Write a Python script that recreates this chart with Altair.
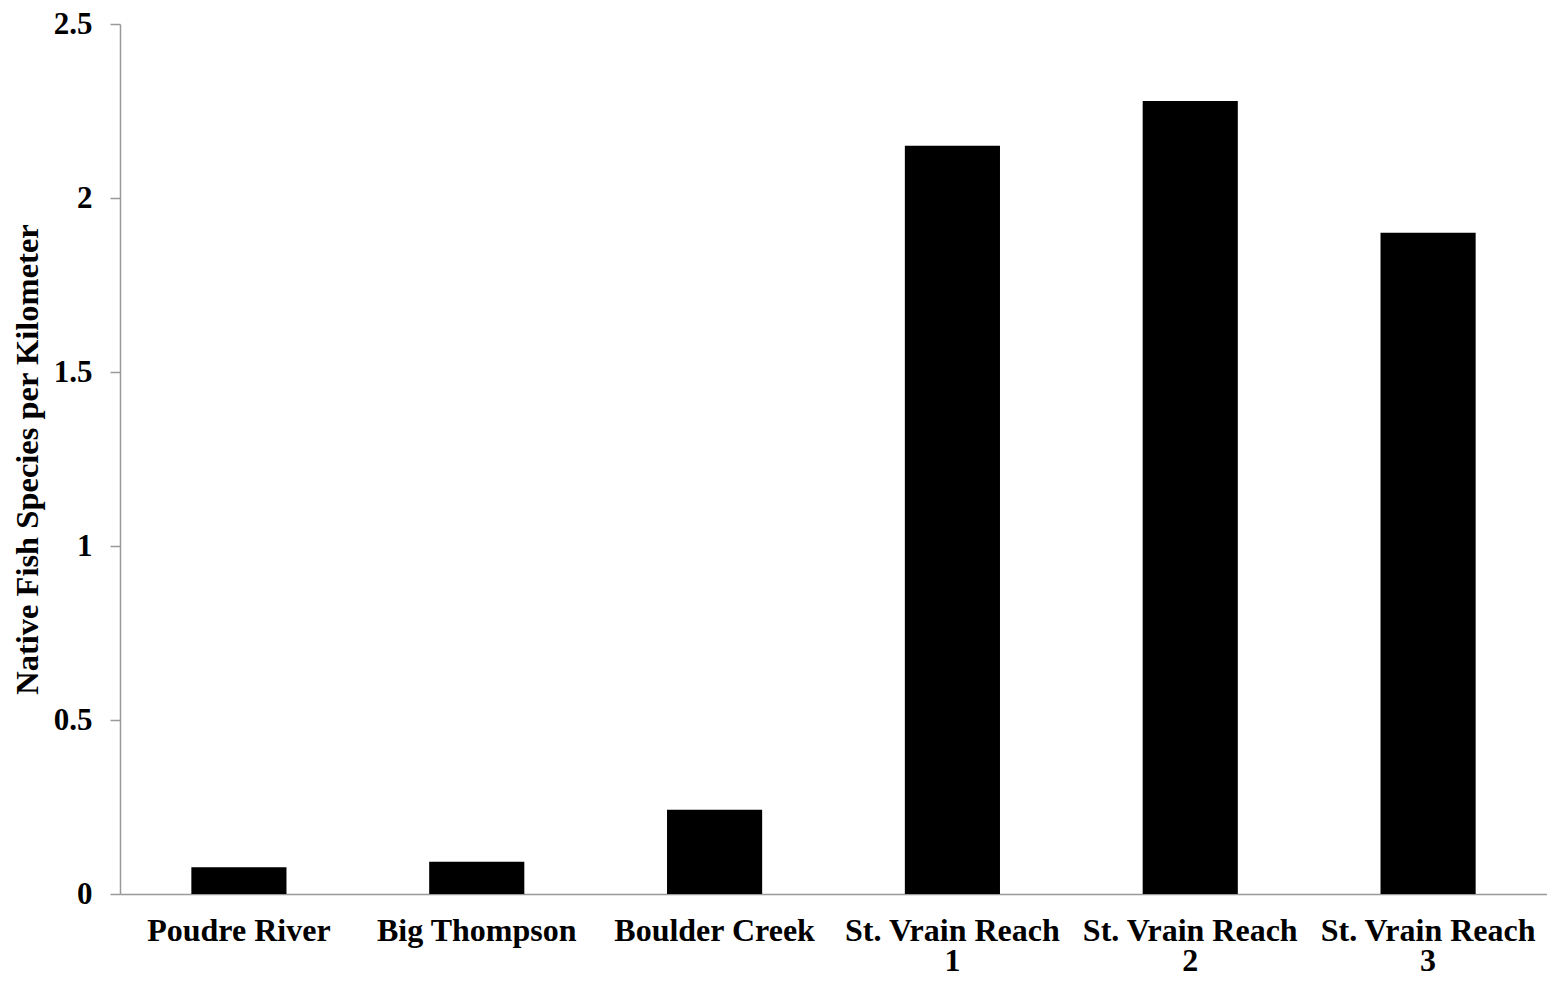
import altair as alt
import pandas as pd

sites = ["Poudre River", "Big Thompson", "Boulder Creek",
         "St. Vrain Reach 1", "St. Vrain Reach 2", "St. Vrain Reach 3"]
values = [0.077, 0.093, 0.242, 2.150, 2.279, 1.900]

df = pd.DataFrame({"site": sites, "value": values})

FONT = "Liberation Serif"

label_expr = ("indexof(datum.label, 'Reach') > 0 ? "
              "['St. Vrain Reach', substring(datum.label, 16)] : datum.label")

chart = alt.Chart(df).mark_bar(color="black").encode(
    x=alt.X("site:N", sort=sites,
            scale=alt.Scale(paddingInner=0.6, paddingOuter=0.3),
            axis=alt.Axis(title=None, labelAngle=0, ticks=False,
                          labelExpr=label_expr, labelPadding=21,
                          labelLineHeight=30, labelFontSize=32,
                          labelFont=FONT, labelFontWeight="bold",
                          labelColor="black", domainColor="#999999",
                          domainWidth=1.5, labelBaseline="top",
                          labelLimit=0, labelOverlap=False)),
    y=alt.Y("value:Q",
            scale=alt.Scale(domain=[0, 2.5], nice=False),
            axis=alt.Axis(title="Native Fish Species per Kilometer",
                          values=[0, 0.5, 1, 1.5, 2, 2.5], format="~g",
                          grid=False, tickSize=10, tickColor="#999999",
                          tickWidth=1.5, domainColor="#999999", domainWidth=1.5,
                          labelFontSize=31, labelFont=FONT,
                          labelFontWeight="bold", labelColor="black",
                          labelPadding=18,
                          titleFont=FONT, titleFontSize=32.5,
                          titleFontWeight="bold", titleColor="black",
                          titlePadding=9)),
).properties(
    width=1427, height=870,
    background="white",
    autosize=alt.AutoSizeParams(type="none"),
    padding={"left": 112, "top": 16, "right": 0, "bottom": 90},
).configure_view(strokeWidth=0, stroke="transparent")

chart.save("out.html", embed_options={"renderer": "svg", "actions": False})
